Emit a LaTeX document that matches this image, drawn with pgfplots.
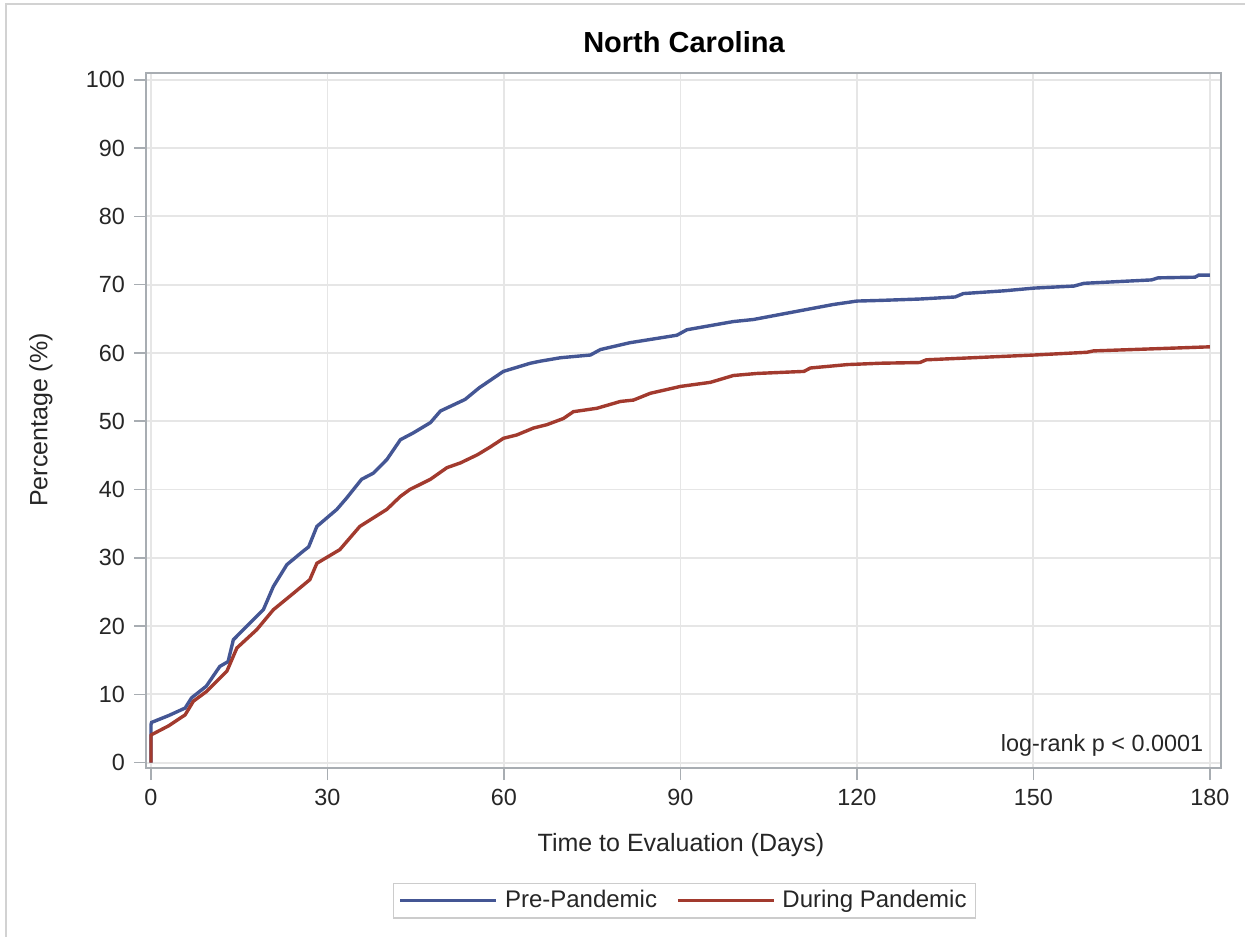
\documentclass[border=0pt]{standalone}
\usepackage{pgfplots}
\pgfplotsset{compat=1.18}
\usepackage{fontspec}
\setmainfont{Liberation Sans}
\definecolor{sasblue}{HTML}{445694}
\definecolor{sasred}{HTML}{A23A2E}
\definecolor{framegray}{HTML}{A8ADB2}
\definecolor{gridgray}{HTML}{E6E6E6}
\begin{document}
\begin{tikzpicture}
\path[use as bounding box] (0pt,0pt) rectangle (622.5pt,-468pt);
\draw[gray!35, line width=0.8pt] (3pt,-470pt) -- (3pt,-2pt) -- (625pt,-2pt);
\begin{axis}[
  at={(73pt,-36.5pt)}, anchor=north west,
  scale only axis, width=537.5pt, height=347.5pt,
  xmin=-0.85, xmax=181.9, ymin=-0.78, ymax=101.0,
  xtick={0,30,...,180}, ytick={0,10,...,100},
  axis line style={framegray, line width=0.8pt},
  tick style={framegray, line width=0.8pt},
  tick align=outside, major tick length=6pt,
  xtick pos=bottom, ytick pos=left,
  grid=major, major grid style={gridgray, line width=0.9pt},
  tick label style={font=\fontsize{11.7}{13}\selectfont, text=black!85},
  /pgf/number format/assume math mode=true,
  xticklabel style={yshift=-1pt},
  yticklabel style={xshift=-1pt},
  legend columns=2,
  legend style={at={(0.501,-0.191)}, anchor=center, draw=gray!40, line width=0.6pt,
    font=\fontsize{12}{14}\selectfont, text=black!85, inner xsep=2.5pt, inner ysep=1.5pt,
    /tikz/every odd column/.append style={column sep=1.5pt},
    /tikz/every even column/.append style={column sep=7.5pt}},
  legend image code/.code={\draw[#1, line width=1.7pt] (0pt,0pt) -- (48pt,0pt);},
]
\addplot[sasblue, line width=1.7pt] coordinates {
(0,0) (0,5.6) (0.1,5.9) (3,6.9) (5.8,8.0) (6.9,9.5) (9.4,11.2) (11.7,14.1) (13.1,14.8) (14.0,18.0)
(16.3,20.0) (19.1,22.4) (20.8,25.8) (23.1,29.0) (25.9,31.0) (26.8,31.6) (28.2,34.6) (31.6,37.1) (33.3,38.8)
(35.8,41.5) (37.8,42.4) (40.1,44.4) (42.4,47.3) (44.6,48.3) (47.5,49.8) (49.2,51.5) (53.4,53.2)
(55.8,54.9) (59.9,57.3) (64.5,58.5) (66.2,58.8) (69.6,59.3) (74.7,59.7) (76.4,60.5) (81.4,61.5)
(89.4,62.6) (91.1,63.4) (99.0,64.6) (102.4,64.9) (109.8,66.1) (116.0,67.1) (120.0,67.6) (124.1,67.7)
(130.7,67.9) (136.7,68.2) (138.1,68.7) (145.0,69.1) (150.1,69.5) (156.9,69.8) (158.6,70.2)
(170.1,70.7) (171.2,71.0) (177.5,71.1) (178.1,71.4) (180,71.4)
};
\addlegendentry{Pre-Pandemic}
\addplot[sasred, line width=1.7pt] coordinates {
(0,0) (0,4.0) (0.1,4.1) (3,5.4) (5.8,7.0) (7.2,9.0) (9.4,10.4) (12.9,13.4) (14.6,16.8) (18.0,19.5)
(20.8,22.4) (24.2,24.8) (27.0,26.8) (28.2,29.2) (32.1,31.2) (35.5,34.6) (40.1,37.1) (42.4,39.0)
(44.0,40.0) (47.5,41.5) (50.3,43.2) (52.6,43.9) (55.5,45.1) (57.8,46.3) (59.9,47.5) (62.2,48.0)
(65.0,49.0) (67.3,49.5) (70.1,50.4) (71.8,51.4) (75.8,51.9) (79.8,52.9) (82.0,53.1) (84.9,54.1)
(90.0,55.1) (95.1,55.7) (99.0,56.7) (103.0,57.0) (111.0,57.3) (112.1,57.8) (118.4,58.3) (124.1,58.5)
(130.7,58.6) (131.8,59.0) (150.1,59.7) (159.1,60.1) (160.2,60.3) (180,60.9)
};
\addlegendentry{During Pandemic}
\node[anchor=east, font=\fontsize{11.7}{13}\selectfont, text=black!85] at (axis description cs:0.99,0.033) {log-rank p < 0.0001};
\end{axis}
\node[font=\bfseries\fontsize{14.5}{16}\selectfont] at (342pt,-21pt) {North Carolina};
\node[rotate=90, font=\fontsize{12.5}{14}\selectfont, text=black!85] at (20.5pt,-210pt) {Percentage (\%)};
\node[font=\fontsize{12.5}{14}\selectfont, text=black!85] at (340.5pt,-422.5pt) {Time to Evaluation (Days)};
\end{tikzpicture}
\end{document}
